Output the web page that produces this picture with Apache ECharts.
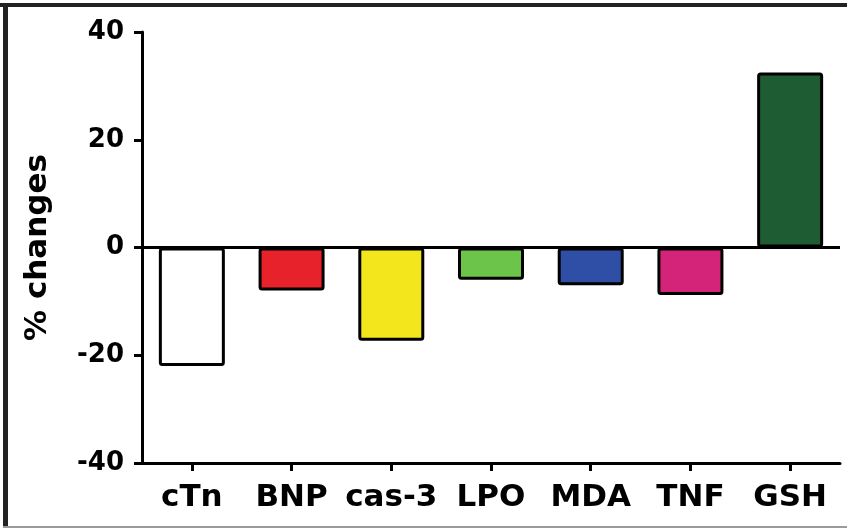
<!DOCTYPE html>
<html><head><meta charset="utf-8">
<script src="https://cdn.jsdelivr.net/npm/echarts@6/dist/echarts.min.js"></script>
<style>html,body{margin:0;padding:0;background:#fff}#c{width:847px;height:529px}</style>
</head><body><div id="c"></div>
<script>
const categories = ['cTn', 'BNP', 'cas-3', 'LPO', 'MDA', 'TNF', 'GSH'];
const values = [-22, -8, -17.3, -6, -7, -8.8, 32.5];
const colors = ['#ffffff', '#e8222b', '#f3e61c', '#6cc44a', '#2f4fa6', '#d42479', '#1e5c33'];
const yTicks = [-40, -20, 0, 20, 40];
const yTitle = '% changes';

const chart = echarts.init(document.getElementById('c'), null, {renderer: 'canvas'});
const font = 'DejaVu Sans, sans-serif';
chart.setOption({
  animation: false,
  graphic: [
    {type: 'rect', shape: {x: 0, y: 3, width: 847, height: 4}, style: {fill: '#222'}, z: 100},
    {type: 'rect', shape: {x: 3, y: 3, width: 5, height: 524}, style: {fill: '#222'}, z: 100},
    {type: 'rect', shape: {x: 3, y: 526, width: 844, height: 2}, style: {fill: '#9a9a9a'}, z: 100}
  ],
  grid: {left: 142, right: 7, top: 32, bottom: 66, containLabel: false},
  xAxis: {
    type: 'category', data: categories,
    axisLine: {onZero: false, lineStyle: {color: '#000', width: 3}},
    axisTick: {show: true, alignWithLabel: true, length: 8, lineStyle: {color: '#000', width: 3}},
    axisLabel: {color: '#000', fontFamily: font, fontWeight: 'bold', fontSize: 31, margin: 19, interval: 0}
  },
  yAxis: {
    type: 'value', min: yTicks[0], max: yTicks[yTicks.length - 1], interval: 20,
    name: yTitle, nameLocation: 'middle', nameGap: 89,
    nameTextStyle: {color: '#000', fontFamily: font, fontWeight: 'bold', fontSize: 31},
    axisLine: {show: true, lineStyle: {color: '#000', width: 3}},
    axisTick: {show: true, length: 8, lineStyle: {color: '#000', width: 3}},
    axisLabel: {color: '#000', fontFamily: font, fontWeight: 'bold', fontSize: 26, margin: 18},
    splitLine: {show: false}
  },
  series: [{
    type: 'bar', barWidth: 66,
    data: values.map((v, i) => ({value: v, itemStyle: {color: colors[i]}})),
    itemStyle: {borderColor: '#000', borderWidth: 3, borderRadius: 2},
    markLine: {
      silent: true, symbol: 'none', label: {show: false},
      lineStyle: {color: '#000', width: 3, type: 'solid'},
      data: [{yAxis: 0}]
    }
  }]
});
</script></body></html>
